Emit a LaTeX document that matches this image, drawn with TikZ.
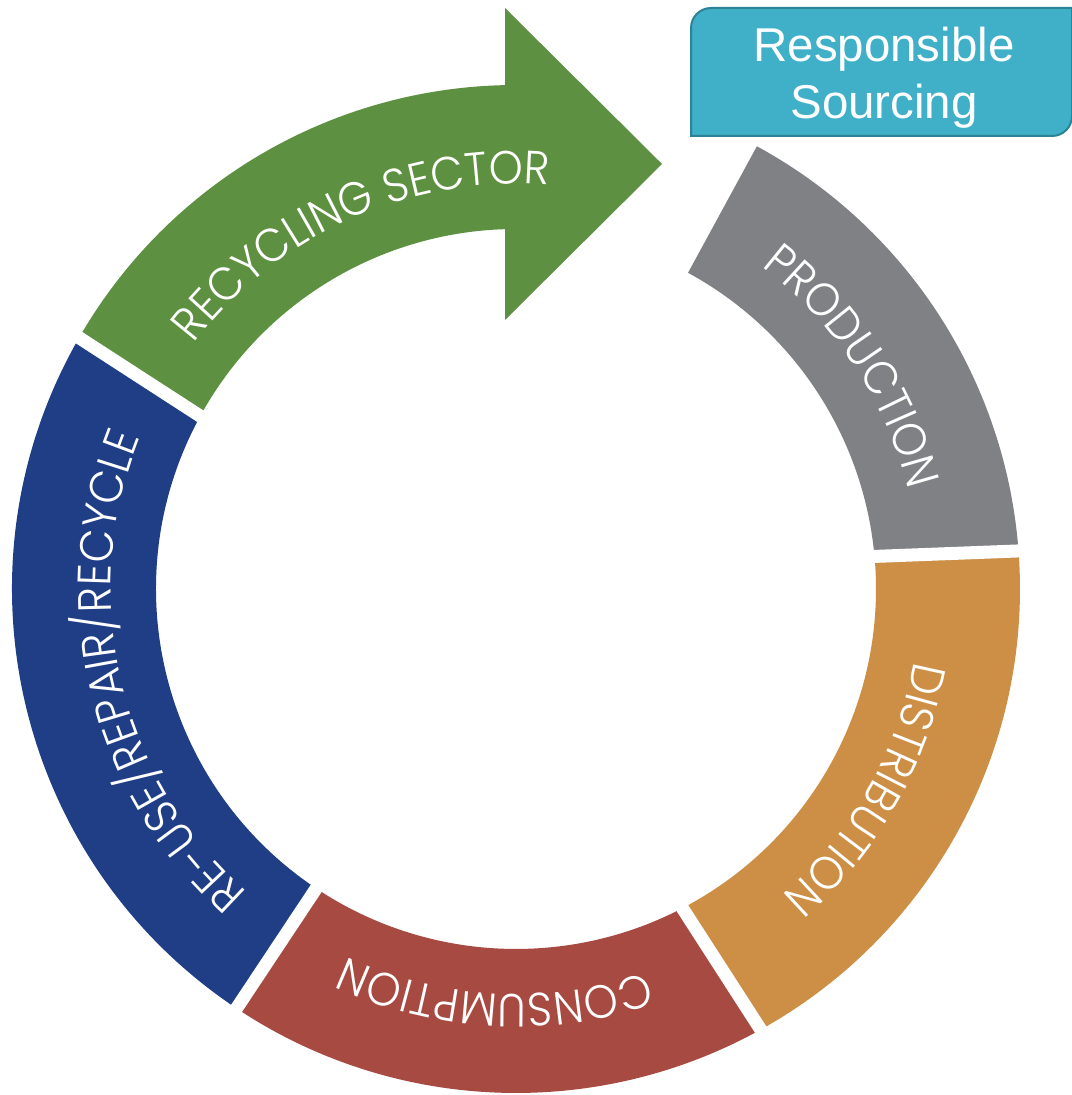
\documentclass[tikz,border=0pt]{standalone}
\usepackage{fontspec}
\setmainfont{Liberation Sans}
\newfontfamily\ringfont{Poppins}[UprightFont={* Light}, FakeStretch=0.93]
\usetikzlibrary{decorations.text}
\definecolor{cgreen}{HTML}{5E9041}
\definecolor{cblue}{HTML}{1F3E86}
\definecolor{cred}{HTML}{A74A42}
\definecolor{corange}{HTML}{CD8E45}
\definecolor{cgrey}{HTML}{808185}
\definecolor{boxfill}{HTML}{40AFC8}
\definecolor{boxline}{HTML}{2D8296}
\newcommand\ringstyle{\ringfont\fontsize{35pt}{35pt}\selectfont}
\begin{document}
\begin{tikzpicture}[x=0.75pt,y=0.75pt,
  gapline/.style={white, line width=9.75pt},
  ringlabel/.style={decorate, decoration={text along path, text align=center, text color=white, text={|\ringstyle|#1}}},
  boxtext/.style={text=white, inner sep=0pt, anchor=base, font=\fontsize{35.6pt}{42pt}\selectfont}]
\useasboundingbox (0,0) rectangle (1071,1095);
\fill[white] (0,0) rectangle (1071,1095);
\begin{scope}[shift={(516,506)}]
  % ring segments
  \fill[cgrey] (61.45:504) arc[start angle=61.45, end angle=4.33, radius=504]
     -- (5.21:360) arc[start angle=5.21, end angle=61.45, radius=360] -- cycle;
  \fill[corange] (4.33:504) arc[start angle=4.33, end angle=-60.95, radius=504]
     -- (-62.46:360) arc[start angle=-62.46, end angle=5.21, radius=360] -- cycle;
  \fill[cred] (-60.95:504) arc[start angle=-60.95, end angle=-123.68, radius=504]
     -- (-123.71:360) arc[start angle=-123.71, end angle=-62.46, radius=360] -- cycle;
  \fill[cblue] (236.32:504) arc[start angle=236.32, end angle=150.09, radius=504]
     -- (151.30:360) arc[start angle=151.30, end angle=236.29, radius=360] -- cycle;
  \fill[cgreen] (150.09:504) arc[start angle=150.09, end angle=91.25, radius=504]
     -- (-11,581) -- (146,425) -- (-11,269)
     -- (91.75:360) arc[start angle=91.75, end angle=151.30, radius=360] -- cycle;
  % gaps
  \draw[gapline] (-307.6,167.6) -- (-445.6,256.9);
  \draw[gapline] (-194.7,-291.7) -- (-285.7,-428.8);
  \draw[gapline] (161.1,-310.9) -- (250.2,-449.2);
  \draw[gapline] (346.5,32.1) -- (511.5,38.4);
  % labels along the ring
  \path[ringlabel={RECYCLING SECTOR}] (184:405) arc[start angle=184, end angle=44, radius=405];
  \path[ringlabel={PRODUCTION}] (103.4:405) arc[start angle=103.4, end angle=-36.6, radius=405];
  \path[ringlabel={DISTRIBUTION}] (40.3:405) arc[start angle=40.3, end angle=-99.7, radius=405];
  \path[ringlabel={CONSUMPTION}] (337:405) arc[start angle=337, end angle=197, radius=405];
  \path[ringlabel={RE-USE/REPAIR/RECYCLE}] (263.2:405) arc[start angle=263.2, end angle=123.2, radius=405];
\end{scope}
% Responsible Sourcing box
\draw[fill=boxfill, draw=boxline, line width=1.5pt]
  (691,959) -- (691,1067) arc[start angle=180, end angle=90, radius=20]
  -- (1072,1087) -- (1072,979) arc[start angle=0, end angle=-90, radius=20] -- cycle;
\node[boxtext] (rs1) at (884,1033) {Responsible};
\node[boxtext] (rs2) at (884,976.7) {Sourcing};
\end{tikzpicture}
\end{document}
